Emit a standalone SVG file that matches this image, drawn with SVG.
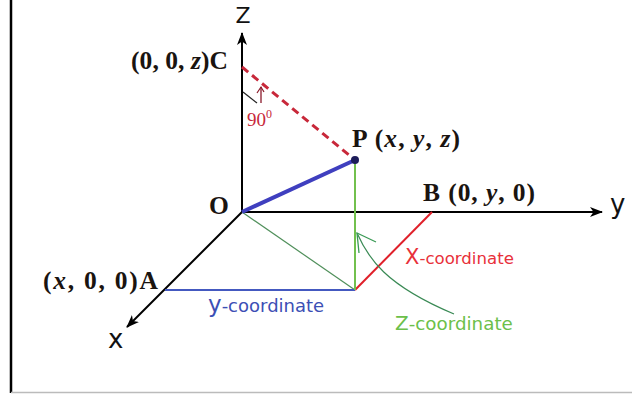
<svg xmlns="http://www.w3.org/2000/svg" width="632" height="394" viewBox="0 0 632 394">
<defs>
<style>
.axis{stroke:#000;stroke-width:2;fill:none}
.lbl{font-family:"Liberation Serif","Times New Roman",serif;font-weight:bold;font-size:25.5px;fill:#1a1410}
.it{font-style:italic}
.sans{font-family:"DejaVu Sans","Verdana",sans-serif}
</style>
<marker id="arr" viewBox="0 0 13 10" refX="12" refY="5" markerWidth="13" markerHeight="10" markerUnits="userSpaceOnUse" orient="auto">
<path d="M0,0 L13,5 L0,10 L3.5,5 Z" fill="#000"/>
</marker>
</defs>
<rect x="0" y="0" width="632" height="394" fill="#fff"/>
<g id="frame">
<line x1="11" y1="0" x2="11" y2="393" stroke="#000" stroke-width="2.5"/>
<line x1="11" y1="392.5" x2="632" y2="392.5" stroke="#bbb" stroke-width="1.5"/>
</g>
<g id="connectors">
<line class="axis" x1="242" y1="212" x2="242" y2="33" marker-end="url(#arr)"/>
<line class="axis" x1="242" y1="212" x2="602" y2="212" marker-end="url(#arr)"/>
<line class="axis" x1="242" y1="212" x2="127" y2="327" marker-end="url(#arr)"/>
<line x1="242" y1="212" x2="355" y2="290" stroke="#4f8f5a" stroke-width="1.2"/>
<line x1="165" y1="290" x2="355" y2="290" stroke="#4459c0" stroke-width="2"/>
<line x1="355" y1="290" x2="432" y2="212" stroke="#e0202a" stroke-width="2"/>
<line x1="355" y1="160" x2="355" y2="290" stroke="#72c04e" stroke-width="2"/>
<line x1="242" y1="212" x2="355" y2="160" stroke="#3f3fbf" stroke-width="4"/>
<line x1="242" y1="67" x2="355" y2="160" stroke="#c8283a" stroke-width="3" stroke-dasharray="8,5"/>
<path d="M357,233 C368,258 385,285 454,314" fill="none" stroke="#3a8a55" stroke-width="1.2"/>
<polyline points="359,253 357,233 376,242" fill="none" stroke="#3a9a55" stroke-width="1.3"/>
<line x1="243" y1="92" x2="257" y2="103" stroke="#222" stroke-width="1.2"/>
<polyline points="257,93 261,87 264,92" fill="none" stroke="#8a1a2a" stroke-width="1.2"/>
<line x1="261" y1="87" x2="261" y2="103" stroke="#8a1a2a" stroke-width="1.3"/>
</g>
<g id="P">
<circle cx="355" cy="160" r="4" fill="#1c1c5a"/>
<text class="lbl" x="352" y="147" textLength="108" lengthAdjust="spacing">P (<tspan class="it">x</tspan>, <tspan class="it">y</tspan>, <tspan class="it">z</tspan>)</text>
</g>
<g id="C">
<text class="lbl" x="131" y="69" textLength="97" lengthAdjust="spacing">(0, 0, <tspan class="it">z</tspan>)C</text>
<text x="247" y="126" font-family="Liberation Serif,serif" font-size="19" fill="#c8283a">90<tspan font-size="12" dy="-8">0</tspan></text>
</g>
<g id="B">
<text class="lbl" x="423" y="201" textLength="112" lengthAdjust="spacing">B (0, <tspan class="it">y</tspan>, 0)</text>
</g>
<g id="O">
<text class="lbl" x="209" y="214">O</text>
</g>
<g id="A">
<text class="lbl" x="43" y="289" textLength="115" lengthAdjust="spacing">(<tspan class="it">x</tspan>, 0, 0)A</text>
</g>
<g id="axis-labels" class="sans" fill="#111">
<text x="243" y="23" font-size="22" text-anchor="middle">Z</text>
<text x="610" y="213" font-size="26">y</text>
<text x="108" y="348" font-size="26">x</text>
</g>
<g id="coord-labels" class="sans">
<text x="208" y="312" font-size="18" fill="#3c4fb5"><tspan font-size="23">y</tspan>-coordinate</text>
<text x="405" y="264" font-size="16.6" fill="#e8303a"><tspan font-size="21">X</tspan>-coordinate</text>
<text x="395" y="330" font-size="18.3" fill="#6cc04a"><tspan font-size="20">Z</tspan>-coordinate</text>
</g>
</svg>
